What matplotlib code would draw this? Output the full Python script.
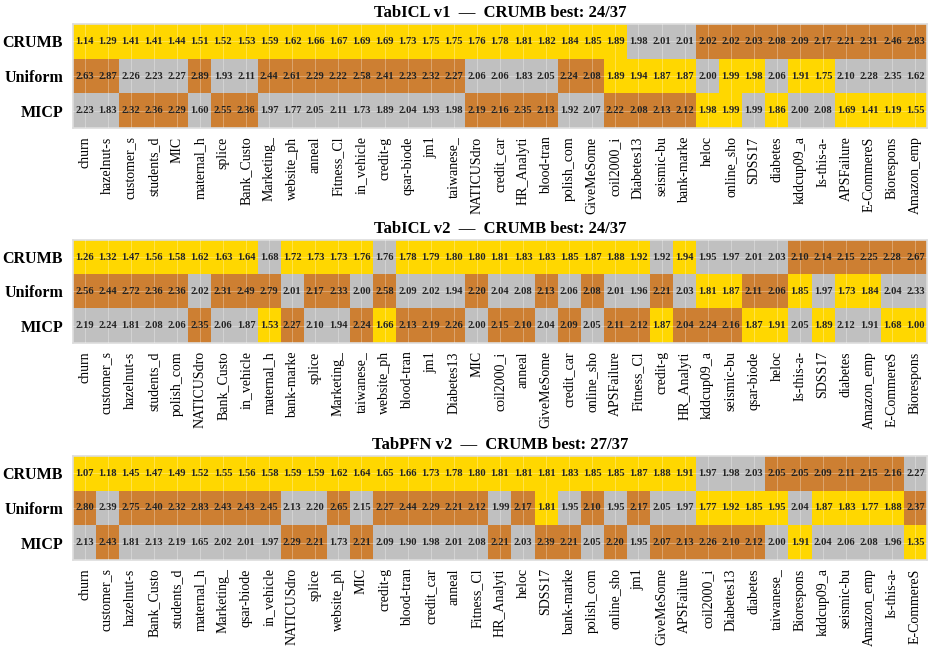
import numpy as np
import matplotlib
matplotlib.use('Agg')
import matplotlib.pyplot as plt
from matplotlib.colors import ListedColormap

plt.rcParams['font.family'] = ['Liberation Serif', 'DejaVu Serif']

methods = ['CRUMB', 'Uniform', 'MICP']

# TabICL v1
v1_title = 'TabICL v1'
v1_datasets = ['churn', 'hazelnut-s', 'customer_s', 'students_d', 'MIC', 'maternal_h', 'splice',
               'Bank_Custo', 'Marketing_', 'website_ph', 'anneal', 'Fitness_Cl', 'in_vehicle',
               'credit-g', 'qsar-biode', 'jm1', 'taiwanese_', 'NATICUSdro', 'credit_car',
               'HR_Analyti', 'blood-tran', 'polish_com', 'GiveMeSome', 'coil2000_i', 'Diabetes13',
               'seismic-bu', 'bank-marke', 'heloc', 'online_sho', 'SDSS17', 'diabetes',
               'kddcup09_a', 'Is-this-a-', 'APSFailure', 'E-CommereS', 'Biorespons', 'Amazon_emp']
v1_crumb = [1.14, 1.29, 1.41, 1.41, 1.44, 1.51, 1.52, 1.53, 1.59, 1.62, 1.66, 1.67, 1.69, 1.69,
            1.73, 1.75, 1.75, 1.76, 1.78, 1.81, 1.82, 1.84, 1.85, 1.89, 1.98, 2.01, 2.01, 2.02,
            2.02, 2.03, 2.08, 2.09, 2.17, 2.21, 2.31, 2.46, 2.83]
v1_uniform = [2.63, 2.87, 2.26, 2.23, 2.27, 2.89, 1.93, 2.11, 2.44, 2.61, 2.29, 2.22, 2.58, 2.41,
              2.23, 2.32, 2.27, 2.06, 2.06, 1.83, 2.05, 2.24, 2.08, 1.89, 1.94, 1.87, 1.87, 2.00,
              1.99, 1.98, 2.06, 1.91, 1.75, 2.10, 2.28, 2.35, 1.62]
v1_micp = [2.23, 1.83, 2.32, 2.36, 2.29, 1.60, 2.55, 2.36, 1.97, 1.77, 2.05, 2.11, 1.73, 1.89,
           2.04, 1.93, 1.98, 2.19, 2.16, 2.35, 2.13, 1.92, 2.07, 2.22, 2.08, 2.13, 2.12, 1.98,
           1.99, 1.99, 1.86, 2.00, 2.08, 1.69, 1.41, 1.19, 1.55]

# TabICL v2
v2_title = 'TabICL v2'
v2_datasets = ['churn', 'customer_s', 'hazelnut-s', 'students_d', 'polish_com', 'NATICUSdro',
               'Bank_Custo', 'in_vehicle', 'maternal_h', 'bank-marke', 'splice', 'Marketing_',
               'taiwanese_', 'website_ph', 'blood-tran', 'jm1', 'Diabetes13', 'MIC', 'coil2000_i',
               'anneal', 'GiveMeSome', 'credit_car', 'online_sho', 'APSFailure', 'Fitness_Cl',
               'credit-g', 'HR_Analyti', 'kddcup09_a', 'seismic-bu', 'qsar-biode', 'heloc',
               'Is-this-a-', 'SDSS17', 'diabetes', 'Amazon_emp', 'E-CommereS', 'Biorespons']
v2_crumb = [1.26, 1.32, 1.47, 1.56, 1.58, 1.62, 1.63, 1.64, 1.68, 1.72, 1.73, 1.73, 1.76, 1.76,
            1.78, 1.79, 1.80, 1.80, 1.81, 1.83, 1.83, 1.85, 1.87, 1.88, 1.92, 1.92, 1.94, 1.95,
            1.97, 2.01, 2.03, 2.10, 2.14, 2.15, 2.25, 2.28, 2.67]
v2_uniform = [2.56, 2.44, 2.72, 2.36, 2.36, 2.02, 2.31, 2.49, 2.79, 2.01, 2.17, 2.33, 2.00, 2.58,
              2.09, 2.02, 1.94, 2.20, 2.04, 2.08, 2.13, 2.06, 2.08, 2.01, 1.96, 2.21, 2.03, 1.81,
              1.87, 2.11, 2.06, 1.85, 1.97, 1.73, 1.84, 2.04, 2.33]
v2_micp = [2.19, 2.24, 1.81, 2.08, 2.06, 2.35, 2.06, 1.87, 1.53, 2.27, 2.10, 1.94, 2.24, 1.66,
           2.13, 2.19, 2.26, 2.00, 2.15, 2.10, 2.04, 2.09, 2.05, 2.11, 2.12, 1.87, 2.04, 2.24,
           2.16, 1.87, 1.91, 2.05, 1.89, 2.12, 1.91, 1.68, 1.00]

# TabPFN v2
v3_title = 'TabPFN v2'
v3_datasets = ['churn', 'customer_s', 'hazelnut-s', 'Bank_Custo', 'students_d', 'maternal_h',
               'Marketing_', 'qsar-biode', 'in_vehicle', 'NATICUSdro', 'splice', 'website_ph',
               'MIC', 'credit-g', 'blood-tran', 'credit_car', 'anneal', 'Fitness_Cl', 'HR_Analyti',
               'heloc', 'SDSS17', 'bank-marke', 'polish_com', 'online_sho', 'jm1', 'GiveMeSome',
               'APSFailure', 'coil2000_i', 'Diabetes13', 'diabetes', 'taiwanese_', 'Biorespons',
               'kddcup09_a', 'seismic-bu', 'Amazon_emp', 'Is-this-a-', 'E-CommereS']
v3_crumb = [1.07, 1.18, 1.45, 1.47, 1.49, 1.52, 1.55, 1.56, 1.58, 1.59, 1.59, 1.62, 1.64, 1.65,
            1.66, 1.73, 1.78, 1.80, 1.81, 1.81, 1.81, 1.83, 1.85, 1.85, 1.87, 1.88, 1.91, 1.97,
            1.98, 2.03, 2.05, 2.05, 2.09, 2.11, 2.15, 2.16, 2.27]
v3_uniform = [2.80, 2.39, 2.75, 2.40, 2.32, 2.83, 2.43, 2.43, 2.45, 2.13, 2.20, 2.65, 2.15, 2.27,
              2.44, 2.29, 2.21, 2.12, 1.99, 2.17, 1.81, 1.95, 2.10, 1.95, 2.17, 2.05, 1.97, 1.77,
              1.92, 1.85, 1.95, 2.04, 1.87, 1.83, 1.77, 1.88, 2.37]
v3_micp = [2.13, 2.43, 1.81, 2.13, 2.19, 1.65, 2.02, 2.01, 1.97, 2.29, 2.21, 1.73, 2.21, 2.09,
           1.90, 1.98, 2.01, 2.08, 2.21, 2.03, 2.39, 2.21, 2.05, 2.20, 1.95, 2.07, 2.13, 2.26,
           2.10, 2.12, 2.00, 1.91, 2.04, 2.06, 2.08, 1.96, 1.35]

panels = [
    (v1_title, v1_datasets, [v1_crumb, v1_uniform, v1_micp]),
    (v2_title, v2_datasets, [v2_crumb, v2_uniform, v2_micp]),
    (v3_title, v3_datasets, [v3_crumb, v3_uniform, v3_micp]),
]

# gold / silver / bronze by rank within each dataset (lower is better)
medal_cmap = ListedColormap(['#FFD700', '#C0C0C0', '#CD7F32'])

fig = plt.figure(figsize=(9.33, 6.5), dpi=100)

# axes boxes in figure fraction: left, bottom, width, height
boxes = [
    [0.0782, 0.8030, 0.9153, 0.1600],
    [0.0782, 0.4723, 0.9153, 0.1585],
    [0.0782, 0.1385, 0.9153, 0.1600],
]

for box, (name, datasets, rows) in zip(boxes, panels):
    vals = np.array(rows)
    ranks = (vals[None, :, :] < vals[:, None, :]).sum(axis=1)
    n_best = int((ranks[0] == 0).sum())

    ax = fig.add_axes(box)
    ax.imshow(ranks, cmap=medal_cmap, vmin=-0.5, vmax=2.5, aspect='auto',
              interpolation='nearest')
    for i in range(vals.shape[0]):
        for j in range(vals.shape[1]):
            ax.text(j, i, f'{vals[i, j]:.2f}', ha='center', va='center',
                    fontsize=7.6, fontweight='bold', color='#222222')

    ax.set_xticks(range(len(datasets)))
    ax.set_xticklabels(datasets, rotation=90, fontsize=10)
    ax.set_yticks(range(len(methods)))
    ax.set_yticklabels(methods, fontsize=11.5, fontweight='bold')
    ax.tick_params(axis='x', length=0, pad=6)
    ax.tick_params(axis='y', length=0, pad=7)
    ax.grid(True, color='white', alpha=0.35, linewidth=0.6)
    ax.set_axisbelow(False)
    for s in ax.spines.values():
        s.set_color('#dddddd')
        s.set_linewidth(1.2)
    ax.set_title(f'{name}  —  CRUMB best: {n_best}/{len(datasets)}',
                 fontsize=12, fontweight='bold', pad=5)

fig.savefig('out.png', dpi=100)
